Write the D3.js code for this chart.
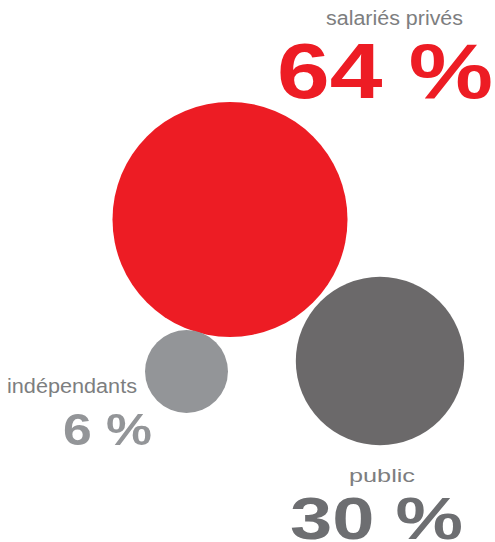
<!DOCTYPE html>
<html>
<head>
<meta charset="utf-8">
<script src="https://cdn.jsdelivr.net/npm/d3@7"></script>
<style>
  html, body { margin: 0; padding: 0; background: #fff; }
  svg { display: block; }
</style>
</head>
<body>
<div id="chart"></div>
<script>
// == DATA ==
const categories = ['salariés privés', 'public', 'indépendants'];
const shares = [64, 30, 6];
const shareLabels = ['64 %', '30 %', '6 %'];

// == CONFIG ==
const W = 495;
const H = 542;
const R_MAX = 117.5;
const COLOR_RED = '#ed1c24';
const COLOR_DARK = '#6b696a';
const COLOR_LIGHT = '#939598';
const COLOR_LABEL = '#7d7e80';

// where each bubble sits, and where its texts go (left edge, baseline, width)
const layout = {
  'salariés privés': {
    cx: 230, cy: 219.5, fill: COLOR_RED,
    label: { x: 326, y: 25, w: 137, size: 20 },
    pct: { x: 277, y: 98, w: 216, size: 78, weight: 700, fill: COLOR_RED }
  },
  'public': {
    cx: 380, cy: 361, fill: COLOR_DARK,
    label: { x: 349, y: 482, w: 66, size: 18 },
    pct: { x: 290, y: 539, w: 173, size: 60, weight: 700, fill: '#6d6e71' }
  },
  'indépendants': {
    cx: 186.5, cy: 371.5, fill: COLOR_LIGHT,
    label: { x: 7, y: 393, w: 130, size: 20 },
    pct: { x: 63, y: 445, w: 89, size: 45, weight: 700, fill: COLOR_LIGHT }
  }
};

// == SETUP ==
const svg = d3.select('#chart')
  .append('svg')
  .attr('width', W)
  .attr('height', H);

// radius grows a bit faster than a pure area scale in the original
const r = d3.scalePow().exponent(0.44)
  .domain([0, d3.max(shares)])
  .range([0, R_MAX]);

const rows = categories.map((c, i) => ({
  name: c,
  value: shares[i],
  text: shareLabels[i],
  ...layout[c]
}));

// 1. Bubbles
svg.append('g')
  .selectAll('circle')
  .data(rows)
  .join('circle')
  .attr('cx', d => d.cx)
  .attr('cy', d => d.cy)
  .attr('r', d => r(d.value))
  .attr('fill', d => d.fill);

// 2. Category names
svg.append('g')
  .selectAll('text')
  .data(rows)
  .join('text')
  .attr('x', d => d.label.x)
  .attr('y', d => d.label.y)
  .attr('font-family', '"Liberation Sans", Arial, sans-serif')
  .attr('font-size', d => d.label.size)
  .attr('fill', COLOR_LABEL)
  .attr('textLength', d => d.label.w)
  .attr('lengthAdjust', 'spacingAndGlyphs')
  .text(d => d.name);

// 3. Big percentages
svg.append('g')
  .selectAll('text')
  .data(rows)
  .join('text')
  .attr('x', d => d.pct.x)
  .attr('y', d => d.pct.y)
  .attr('font-family', '"Liberation Sans", Arial, sans-serif')
  .attr('font-size', d => d.pct.size)
  .attr('font-weight', d => d.pct.weight)
  .attr('fill', d => d.pct.fill)
  .attr('textLength', d => d.pct.w)
  .attr('lengthAdjust', 'spacingAndGlyphs')
  .text(d => d.text);
</script>
</body>
</html>
